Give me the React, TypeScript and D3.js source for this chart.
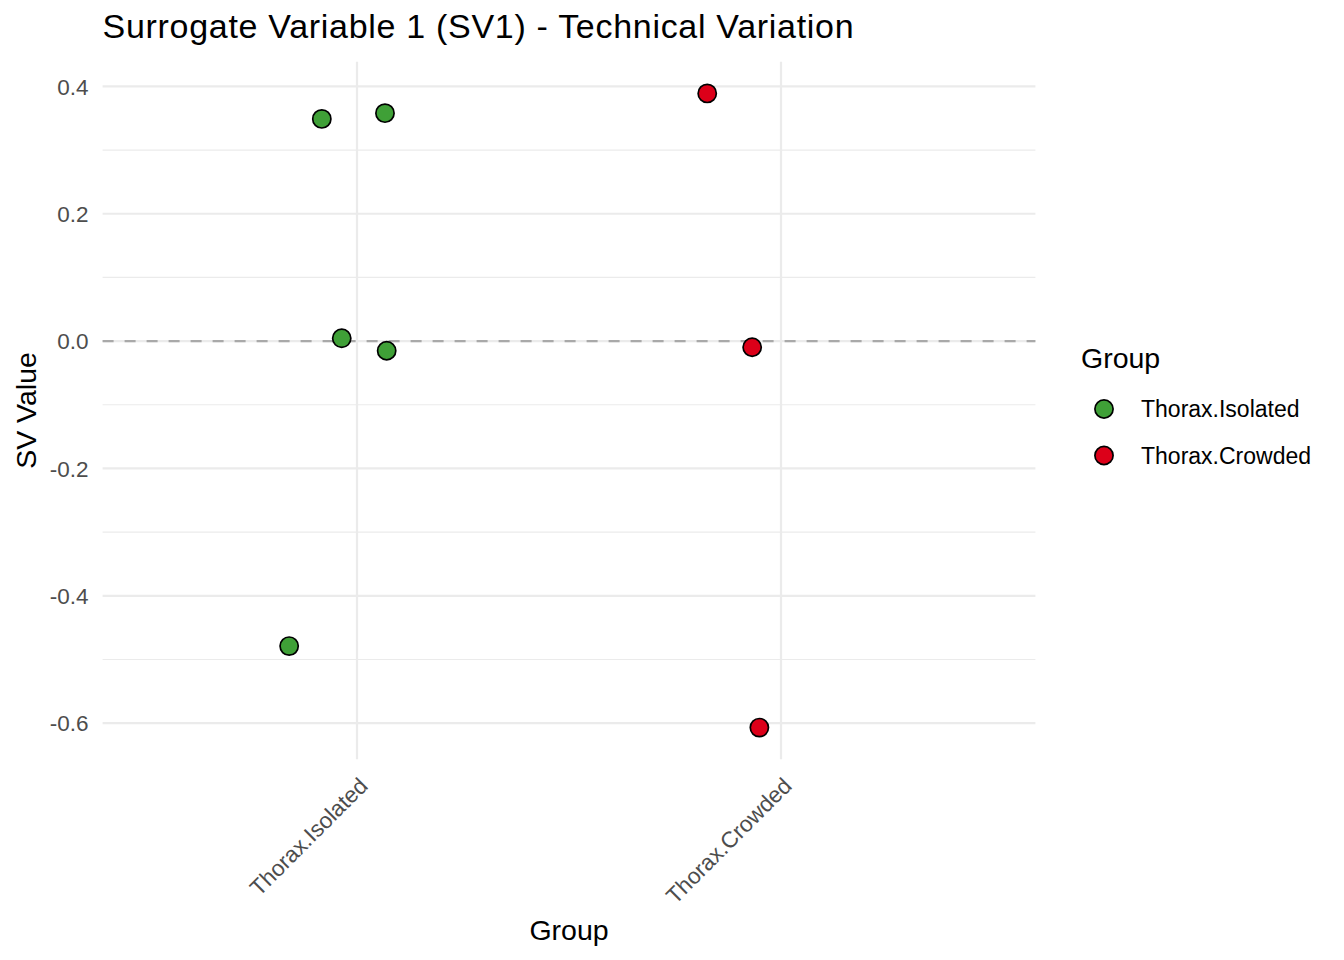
import * as d3 from "d3";
import React, { useEffect, useRef } from "react";

const groups = ["Thorax.Isolated", "Thorax.Crowded"];
const groupColors = ["#3FA037", "#DC0019"];

// SV1 values per sample
const sampleGroup = [
  "Thorax.Isolated",
  "Thorax.Isolated",
  "Thorax.Isolated",
  "Thorax.Isolated",
  "Thorax.Isolated",
  "Thorax.Crowded",
  "Thorax.Crowded",
  "Thorax.Crowded",
];
const sv1Values = [0.349, 0.358, 0.0044, -0.0151, -0.479, 0.389, -0.0097, -0.607];
// horizontal jitter (in category units) as drawn
const jitterOffsets = [-0.083, 0.066, -0.036, 0.07, -0.16, -0.174, -0.068, -0.051];

const yTicks = [-0.6, -0.4, -0.2, 0.0, 0.2, 0.4];
const yMinorTicks = [-0.5, -0.3, -0.1, 0.1, 0.3];

const title = "Surrogate Variable 1 (SV1) - Technical Variation";
const xTitle = "Group";
const yTitle = "SV Value";
const legendTitle = "Group";

const W = 1344;
const H = 960;
const font = "'Liberation Sans', Arial, Helvetica, sans-serif";

const App = () => {
  const ref = useRef(null);

  useEffect(() => {
    const root = d3.select(ref.current);
    root.selectAll("*").remove();

    const svg = root
      .append("svg")
      .attr("width", W)
      .attr("height", H)
      .style("position", "absolute")
      .style("left", 0)
      .style("top", 0)
      .style("font-family", font);

    const panel = { left: 102.6, right: 1035.4, top: 61.7, bottom: 759.3 };

    // x: discrete scale with ggplot-like 0.6 expansion
    const x = d3
      .scalePoint()
      .domain(groups)
      .range([panel.left, panel.right])
      .padding(0.6);
    const step = x.step();

    // y: data range expanded by 5%
    const [lo, hi] = d3.extent(sv1Values);
    const pad = (hi - lo) * 0.05;
    const y = d3
      .scaleLinear()
      .domain([lo - pad, hi + pad])
      .range([panel.bottom, panel.top]);

    const grid = "#EBEBEB";

    // minor grid
    svg
      .append("g")
      .selectAll("line")
      .data(yMinorTicks)
      .enter()
      .append("line")
      .attr("x1", panel.left)
      .attr("x2", panel.right)
      .attr("y1", (d) => y(d))
      .attr("y2", (d) => y(d))
      .attr("stroke", grid)
      .attr("stroke-width", 1.1);

    // major grid
    svg
      .append("g")
      .selectAll("line")
      .data(yTicks)
      .enter()
      .append("line")
      .attr("x1", panel.left)
      .attr("x2", panel.right)
      .attr("y1", (d) => y(d))
      .attr("y2", (d) => y(d))
      .attr("stroke", grid)
      .attr("stroke-width", 2.2);

    svg
      .append("g")
      .selectAll("line")
      .data(groups)
      .enter()
      .append("line")
      .attr("x1", (d) => x(d))
      .attr("x2", (d) => x(d))
      .attr("y1", panel.top)
      .attr("y2", panel.bottom)
      .attr("stroke", grid)
      .attr("stroke-width", 2.2);

    // zero reference line
    svg
      .append("line")
      .attr("x1", panel.left)
      .attr("x2", panel.right)
      .attr("y1", y(0))
      .attr("y2", y(0))
      .attr("stroke", "#A9A9A9")
      .attr("stroke-width", 2.2)
      .attr("stroke-dasharray", "11 11");

    // points
    const color = d3.scaleOrdinal().domain(groups).range(groupColors);
    svg
      .append("g")
      .selectAll("circle")
      .data(sv1Values)
      .enter()
      .append("circle")
      .attr("cx", (d, i) => x(sampleGroup[i]) + jitterOffsets[i] * step)
      .attr("cy", (d) => y(d))
      .attr("r", 9.1)
      .attr("fill", (d, i) => color(sampleGroup[i]))
      .attr("stroke", "#000")
      .attr("stroke-width", 1.7);

    // y tick labels
    svg
      .append("g")
      .selectAll("text")
      .data(yTicks)
      .enter()
      .append("text")
      .attr("x", 88.5)
      .attr("y", (d) => y(d))
      .attr("dy", "0.36em")
      .attr("text-anchor", "end")
      .attr("font-size", 22.5)
      .attr("fill", "#4D4D4D")
      .text((d) => d.toFixed(1));

    // x tick labels (rotated 45)
    svg
      .append("g")
      .selectAll("text")
      .data(groups)
      .enter()
      .append("text")
      .attr("transform", (d) => `translate(${x(d) + 12},${panel.bottom + 28}) rotate(-45)`)
      .attr("text-anchor", "end")
      .attr("font-size", 22.5)
      .attr("fill", "#4D4D4D")
      .text((d) => d);

    // titles
    svg
      .append("text")
      .attr("x", panel.left)
      .attr("y", 37.5)
      .attr("font-size", 34)
      .attr("fill", "#000")
      .attr("textLength", 751)
      .text(title);

    svg
      .append("text")
      .attr("x", (panel.left + panel.right) / 2)
      .attr("y", 940)
      .attr("text-anchor", "middle")
      .attr("font-size", 28.5)
      .attr("fill", "#000")
      .text(xTitle);

    svg
      .append("text")
      .attr("transform", `translate(35.7,${(panel.top + panel.bottom) / 2}) rotate(-90)`)
      .attr("text-anchor", "middle")
      .attr("font-size", 28.5)
      .attr("fill", "#000")
      .text(yTitle);

    // legend
    const legend = svg.append("g");
    legend
      .append("text")
      .attr("x", 1081)
      .attr("y", 368)
      .attr("font-size", 28.5)
      .attr("fill", "#000")
      .text(legendTitle);

    const items = legend
      .selectAll("g.item")
      .data(groups)
      .enter()
      .append("g")
      .attr("class", "item")
      .attr("transform", (d, i) => `translate(0,${409 + i * 46.5})`);
    items
      .append("circle")
      .attr("cx", 1104)
      .attr("cy", 0)
      .attr("r", 9.1)
      .attr("fill", (d) => color(d))
      .attr("stroke", "#000")
      .attr("stroke-width", 1.7);
    items
      .append("text")
      .attr("x", 1141)
      .attr("y", 0)
      .attr("dy", "0.36em")
      .attr("font-size", 23)
      .attr("fill", "#000")
      .text((d) => d);
  }, []);

  return <div ref={ref} />;
};

export default App;
